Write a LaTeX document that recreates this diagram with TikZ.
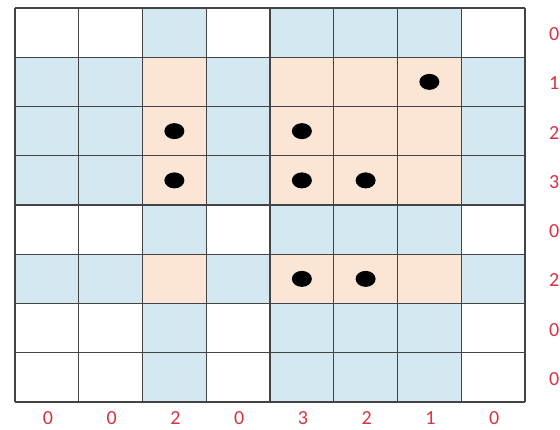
\documentclass[tikz,border=0pt]{standalone}
\usepackage{fontspec}
\setmainfont{Carlito}
\usetikzlibrary{shapes.geometric}
\definecolor{GridGray}{RGB}{66,68,72}
\definecolor{CellBlue}{RGB}{212,232,241}
\definecolor{CellPeach}{RGB}{251,229,213}
\definecolor{SumRed}{RGB}{218,50,66}
\tikzset{
  cellbox/.style={draw=none,inner sep=0pt,outer sep=0pt,minimum width=63.75pt,minimum height=49.25pt},
  cell0/.style={cellbox,fill=white},
  cell1/.style={cellbox,fill=CellBlue},
  cell2/.style={cellbox,fill=CellPeach},
  gridline/.style={draw=GridGray,line width=1.1pt},
  stone/.style={ellipse,fill=black,inner sep=0pt,minimum width=20pt,minimum height=16pt},
  sumlabel/.style={text=SumRed,inner sep=0pt,font=\fontsize{20}{20}\selectfont}
}
\def\rowsums{{0,1,2,3,0,2,0,0}}
\def\colsums{{0,0,2,0,3,2,1,0}}
\begin{document}
\begin{tikzpicture}[x=1pt,y=-1pt]
\useasboundingbox[fill=white] (0,0) rectangle (560,429);
% cells: white / blue (row or column used) / peach (both used)
\foreach \r in {0,...,7}{
  \foreach \c in {0,...,7}{
    \pgfmathtruncatemacro\rs{\rowsums[\r]}
    \pgfmathtruncatemacro\cs{\colsums[\c]}
    \pgfmathtruncatemacro\k{(\rs>0)+(\cs>0)}
    \node[cell\k] (c-\r-\c) at ({15+63.75*(\c+0.5)},{8+49.25*(\r+0.5)}) {};
  }
}
% grid lines
\foreach \i in {0,...,8}
  \draw[gridline] ({15+63.75*\i},8) -- ({15+63.75*\i},402);
\foreach \j in {0,...,8}
  \draw[gridline] (15,{8+49.25*\j}) -- (525,{8+49.25*\j});
% stones
\foreach \r/\c in {1/6,2/2,2/4,3/2,3/4,3/5,5/4,5/5}
  \node[stone] (s-\r-\c) at (c-\r-\c) {};
% row sums
\foreach \s [count=\r from 0] in {0,1,2,3,0,2,0,0}
  \node[sumlabel,anchor=west] (row-\r) at (549,{8+49.25*(\r+0.5)+1.5}) {\s};
% column sums
\foreach \s [count=\c from 0] in {0,0,2,0,3,2,1,0}
  \node[sumlabel] (col-\c) at ({15+63.75*(\c+0.5)+1},418.5) {\s};
\end{tikzpicture}
\end{document}
